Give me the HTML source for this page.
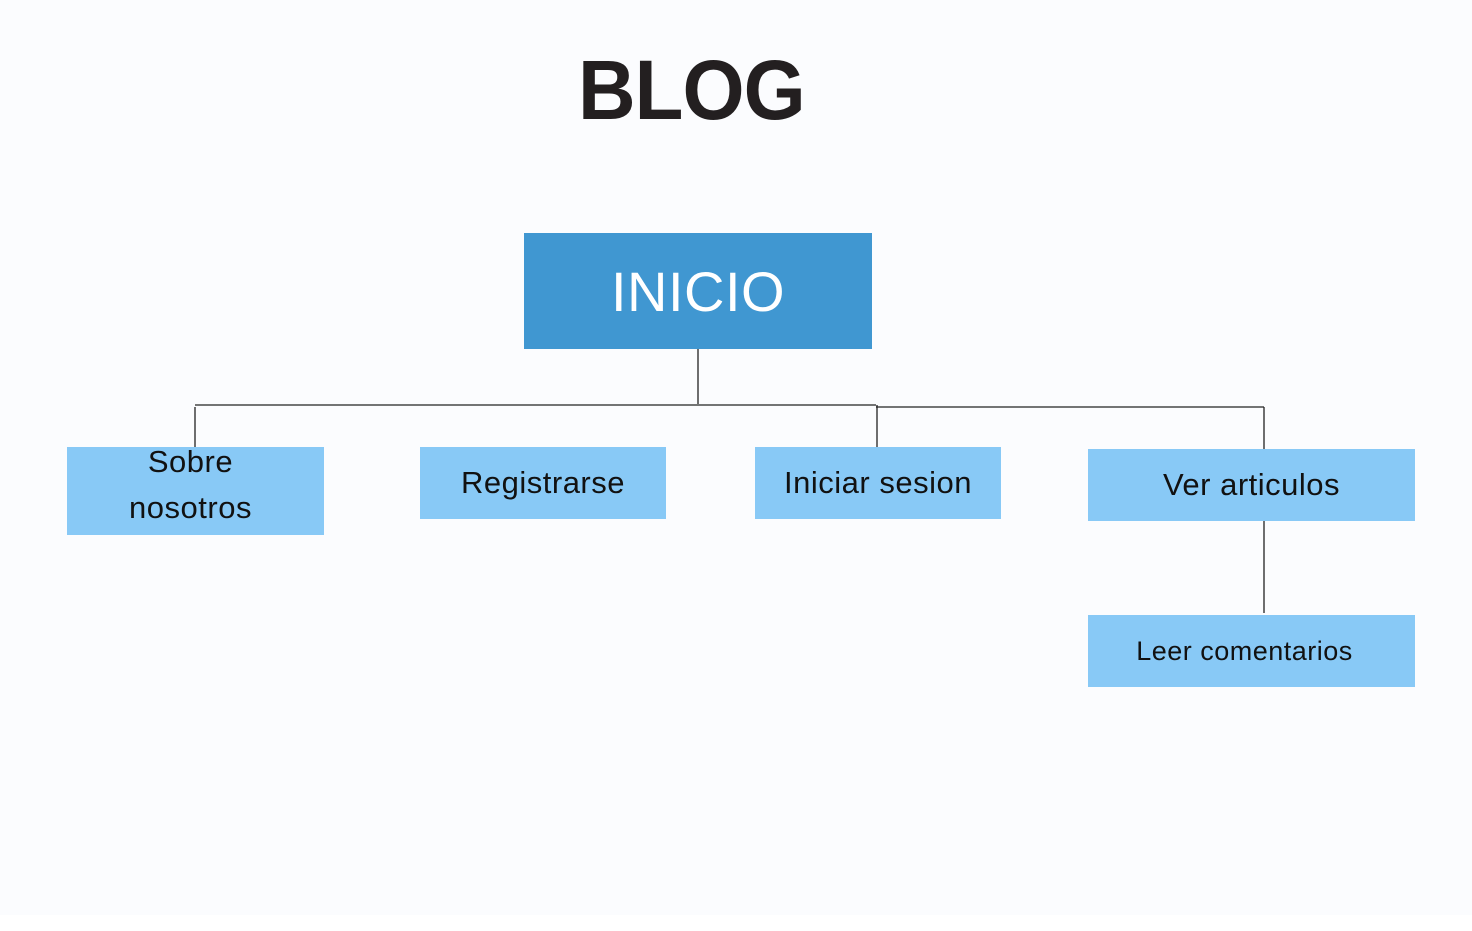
<!DOCTYPE html>
<html><head><style>
html,body{margin:0;padding:0;}
body{width:1472px;height:931px;background:#fff;position:relative;overflow:hidden;font-family:"Liberation Sans",sans-serif;}
.bg{position:absolute;left:0;top:0;width:1472px;height:915px;background:#fbfcfe;}
.b{position:absolute;background:#88c9f6;color:#111;display:flex;align-items:center;justify-content:center;text-align:center;font-size:31px;letter-spacing:0.5px;}
</style></head><body>
<div class="bg"></div>
<div style="position:absolute;left:578px;top:42px;font-size:84px;font-weight:bold;color:#231f20;letter-spacing:-1px;transform:scaleX(0.95);transform-origin:left top;">BLOG</div>
<div class="b" style="left:524px;top:233px;width:348px;height:116px;background:#4097d1;color:#fff;font-size:56px;">INICIO</div>
<div class="b" style="left:67px;top:447px;width:257px;height:88px;line-height:46px;align-items:flex-start;"><div style="margin-top:-8px;margin-left:-10px;">Sobre<br>nosotros</div></div>
<div class="b" style="left:420px;top:447px;width:246px;height:72px;">Registrarse</div>
<div class="b" style="left:755px;top:447px;width:246px;height:72px;">Iniciar sesion</div>
<div class="b" style="left:1088px;top:449px;width:327px;height:72px;">Ver articulos</div>
<div class="b" style="left:1088px;top:615px;width:327px;height:72px;font-size:27px;padding-right:14px;box-sizing:border-box;">Leer comentarios</div>
<svg width="1472" height="931" style="position:absolute;left:0;top:0" stroke="#222" stroke-width="1.3" fill="none">
<path d="M698 349V404M195 405H876M876 407H1264M195 407V447M877 405V447M1264 407V449M1264 521V613"/>
</svg>
</body></html>
